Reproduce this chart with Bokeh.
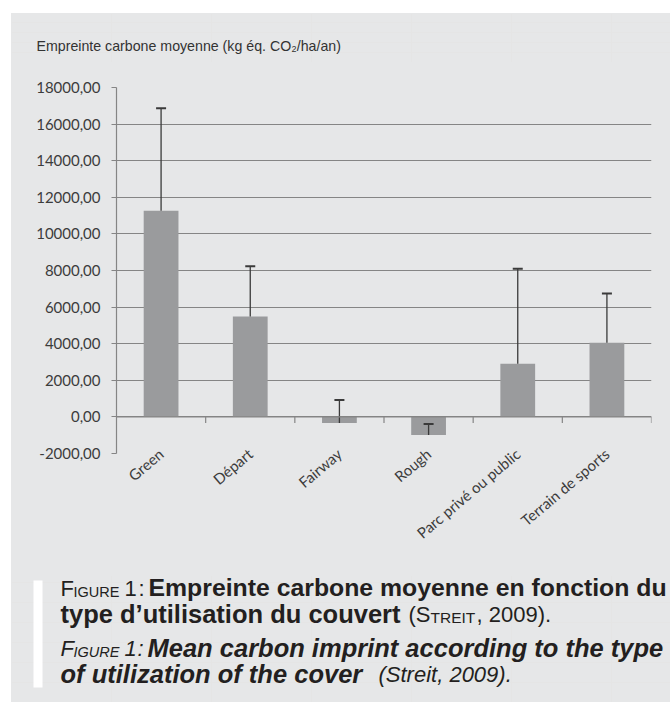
from bokeh.plotting import figure
from bokeh.layouts import column, row
from bokeh.models import (ColumnDataSource, FactorRange, Range1d, FixedTicker, Span,
                          Label, BoxAnnotation, Spacer)
from bokeh.transform import dodge
from bokeh.embed import file_html
from bokeh.resources import INLINE

# ---------------- data ----------------
categories = ["Green", "Départ", "Fairway", "Rough", "Parc privé ou public", "Terrain de sports"]
mean_values = [11270, 5480, -340, -990, 2900, 4050]
error_upper = [16860, 8230, 930, -390, 8100, 6750]
y_ticks = [-2000, 0, 2000, 4000, 6000, 8000, 10000, 12000, 14000, 16000, 18000]
y_tick_labels = ["-2000,00", "0,00", "2000,00", "4000,00", "6000,00", "8000,00",
                 "10000,00", "12000,00", "14000,00", "16000,00", "18000,00"]
y_title = "Empreinte carbone moyenne (kg éq. CO₂/ha/an)"

PANEL = "#e6e7e8"
BAR = "#9a9b9d"
GRID = "#858585"
TXT = "#3c3c3c"
ERR = "#3a3a3a"
CAP = "#231f20"

# page geometry (pixels)
PX0, PY0 = 11, 13           # gray panel origin
PW = 670 - PX0              # panel width
TITLE_H = 49                # title strip: page y 13..62
CHART_Y0, CHART_Y1 = 62, 575
CAPTION_H = 702 - CHART_Y1
FL, FR, FT, FB = 116, 651, 87, 453   # chart frame edges on the page
BASE_SHIFT = 0.39           # renderer's alphabetic-baseline offset, in em


def text_panel(h):
    f = figure(width=PW, height=h, output_backend="svg", toolbar_location=None,
               x_axis_location=None, y_axis_location=None,
               x_range=Range1d(0, PW), y_range=Range1d(0, h),
               min_border_left=0, min_border_right=0,
               min_border_top=0, min_border_bottom=0)
    f.background_fill_color = PANEL
    f.border_fill_color = PANEL
    f.outline_line_color = None
    return f


# ---------------- title strip ----------------
tp = text_panel(TITLE_H)
TS = 14.2
tp.add_layout(Label(x=36 - PX0, y=TITLE_H - (51 - BASE_SHIFT * TS - PY0),
                    x_units="screen", y_units="screen",
                    text=y_title, text_font="Liberation Sans", text_font_size=f"{TS}px",
                    text_baseline="alphabetic", text_color="#333333"))

# ---------------- chart ----------------
src = ColumnDataSource(dict(cats=categories, mean=mean_values, upper=error_upper))

p = figure(width=PW, height=CHART_Y1 - CHART_Y0, output_backend="svg", toolbar_location=None,
           x_range=FactorRange(*categories, range_padding=0, factor_padding=0),
           y_range=Range1d(y_ticks[0], y_ticks[-1]),
           min_border_left=FL - PX0, min_border_right=670 - FR,
           min_border_top=FT - CHART_Y0, min_border_bottom=CHART_Y1 - FB)
p.background_fill_color = PANEL
p.border_fill_color = PANEL
p.outline_line_color = None

p.vbar(x="cats", top="mean", bottom=0, width=0.39, source=src,
       fill_color=BAR, line_color=None)

# error bars (upper only)
p.segment(x0="cats", y0="mean", x1="cats", y1="upper", source=src,
          line_color=ERR, line_width=1.3)
p.scatter(x="cats", y="upper", source=src, marker="dash", size=10,
          line_color=ERR, line_width=2)

# category axis line at zero, with ticks between categories
p.add_layout(Span(location=0, dimension="width", line_color=GRID, line_width=1.2))
p.segment(x0=dodge("cats", 0.5, range=p.x_range), y0=0,
          x1=dodge("cats", 0.5, range=p.x_range), y1=-330,
          source=src, line_color=GRID, line_width=1.2)

# grid
p.xgrid.visible = False
p.ygrid.ticker = FixedTicker(ticks=y_ticks)
p.ygrid.grid_line_color = GRID
p.ygrid.grid_line_width = 1.2

# y axis
p.yaxis.ticker = FixedTicker(ticks=y_ticks)
p.yaxis.major_label_overrides = {t: l for t, l in zip(y_ticks, y_tick_labels)}
p.yaxis.axis_line_color = GRID
p.yaxis.axis_line_width = 1.2
p.yaxis.major_tick_line_color = GRID
p.yaxis.major_tick_out = 5
p.yaxis.major_tick_in = 0
p.yaxis.minor_tick_line_color = None
p.yaxis.major_label_text_font = "Lato"
p.yaxis.major_label_text_font_size = "15px"
p.yaxis.major_label_text_color = TXT
p.yaxis.major_label_standoff = 11

# x axis
p.xaxis.axis_line_color = None
p.xaxis.major_tick_line_color = None
p.xaxis.major_label_orientation = 0.70
p.xaxis.major_label_text_font = "Lato"
p.xaxis.major_label_text_font_size = "15px"
p.xaxis.major_label_text_color = TXT
p.xaxis.major_label_standoff = -8

# ---------------- caption ----------------
cp = text_panel(CAPTION_H)


def csx(x):
    return x - PX0


def csy(y):
    return CAPTION_H - (y - CHART_Y1)


cp.add_layout(BoxAnnotation(left=csx(33), right=csx(42), bottom=csy(687), top=csy(580),
                            left_units="screen", right_units="screen",
                            bottom_units="screen", top_units="screen",
                            fill_color="white", fill_alpha=1, line_color=None))

SB1 = 24.8  # bold caption size, first line
SB = 25.5   # bold caption size
SR = 22     # regular caption size
SC = 14.5   # small capitals


def cap(x, baseline, text, size, style="normal"):
    cp.add_layout(Label(x=csx(x), y=csy(baseline - BASE_SHIFT * size),
                        x_units="screen", y_units="screen", text=text,
                        text_font="Liberation Sans", text_font_size=f"{size}px",
                        text_font_style=style, text_baseline="alphabetic",
                        text_color=CAP))


# line 1
cap(60, 597, "F", SR)
cap(73, 597, "IGURE", SC)
cap(124, 597, "1", SR)
cap(138, 597, ":", SR)
cap(148, 597, "Empreinte carbone moyenne en fonction du", SB1, "bold")
# line 2
cap(60, 623, "type d’utilisation du couvert", SB, "bold")
cap(408, 623, "(S", SR)
cap(430, 623, "TREIT", SC + 1)
cap(476, 623, ", 2009).", SR)
# line 3
cap(60, 657, "F", SR, "italic")
cap(73, 657, "IGURE", SC, "italic")
cap(124, 657, "1", SR, "italic")
cap(137, 657, ":", SR, "italic")
cap(147, 657, "Mean carbon imprint according to the type", SB, "bold italic")
# line 4
cap(60, 683, "of utilization of the cover", SB, "bold italic")
cap(378, 683, "(Streit, 2009).", SR, "italic")

inner = column(row(tp), row(p), row(cp), spacing=0,
               styles={"background-color": PANEL})
layout = column(Spacer(height=PY0), row(Spacer(width=PX0), inner, spacing=0), spacing=0)

open("out.html", "w").write(file_html(layout, INLINE))
